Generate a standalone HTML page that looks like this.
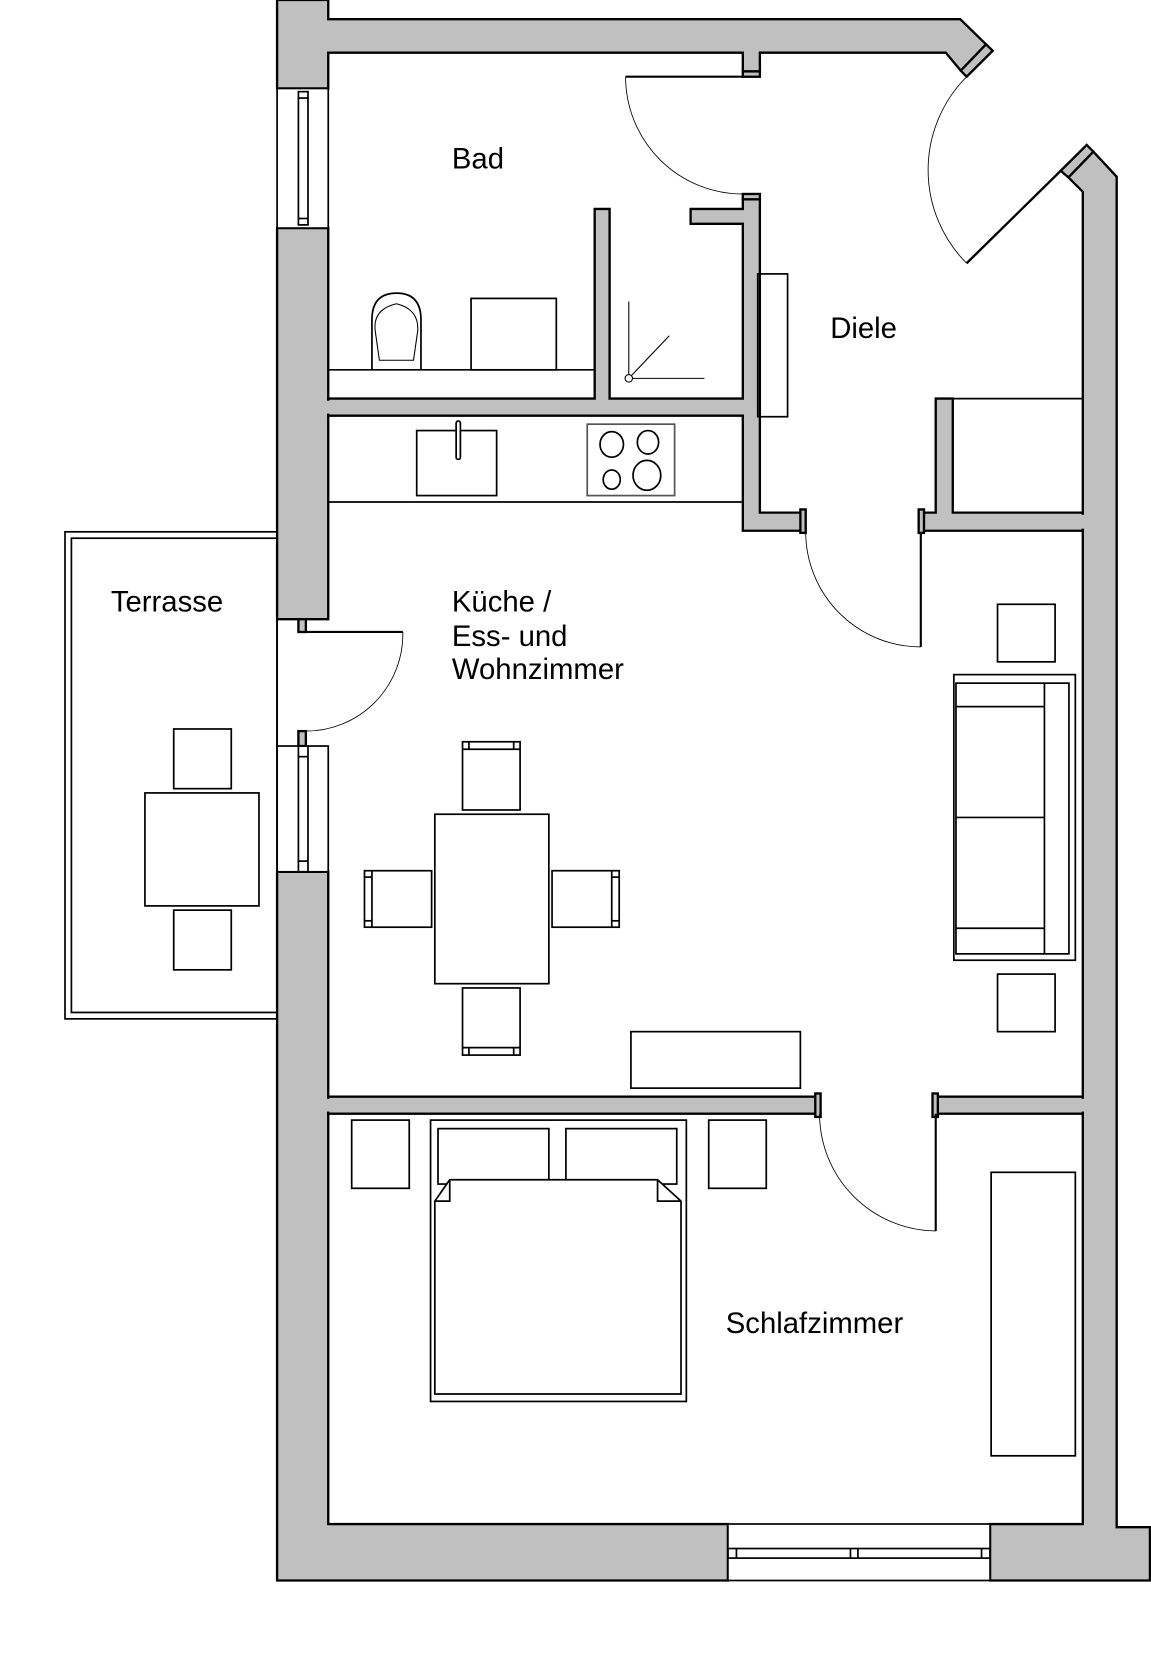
<!DOCTYPE html>
<html><head><meta charset="utf-8"><style>html,body{margin:0;padding:0;background:#fff}svg{display:block}</style></head><body>
<svg width="1151" height="1676" viewBox="0 0 1080 1572.6" xmlns="http://www.w3.org/2000/svg">
<g fill="#c0c0c0" stroke="#000" stroke-width="2.2" stroke-linejoin="miter">
<polygon points="260,0 308,0 308,18 901,18 925.2,41.6 901.5,66.3 887.4,49.4 713,49.4 713,67 697,67 697,49.4 308,49.4 308,83 260,83"/>
<polygon points="925.2,41.6 931.5,47.6 907,72 901.5,66.3"/>
<rect x="697" y="67" width="16" height="5"/>
<polygon points="260,214 308,214 308,581 260,581"/>
<polygon points="260,818 308,818 308,1430 683,1430 683,1483 260,1483"/>
<polygon points="1025.9,142.3 1047.8,165.8 1047.8,1433 1079,1433 1079,1483 929,1483 929,1430 1016,1430 1016,180 1002.5,166.4"/>
<polygon points="1019.7,136 1025.9,142.3 1002.5,166.4 995.3,160.2"/>
<polygon points="308,374 558,374 558,196 572,196 572,374 697,374 697,210 648,210 648,196 697,196 697,187 713,187 713,481 752,481 752,498 697,498 697,390 308,390"/>
<rect x="697" y="182" width="16" height="5"/>
<rect x="751" y="478" width="5" height="22"/>
<polygon points="878,374 894,374 894,481 1016,481 1016,498 866,498 866,481 878,481"/>
<rect x="862" y="478" width="5" height="22"/>
<rect x="308" y="1029" width="458" height="16"/>
<rect x="765" y="1026" width="5" height="22"/>
<rect x="879" y="1029" width="137" height="16"/>
<rect x="875" y="1026" width="5" height="22"/>
<rect x="280" y="581" width="7" height="12"/>
<rect x="280" y="686" width="7" height="14"/>
</g>
<g fill="#c0c0c0">
<rect x="304" y="376" width="10" height="12"/>
<rect x="304" y="1031" width="10" height="12"/>
<rect x="1010" y="1031" width="10" height="12"/>
<rect x="1010" y="483" width="10" height="13"/>
</g>
<g fill="none" stroke="#000" stroke-width="1.6">
<rect x="260" y="83" width="48" height="131" fill="#fff"/>
<rect x="280" y="86" width="9" height="125"/>
<line x1="280" y1="92" x2="289" y2="92"/><line x1="280" y1="205" x2="289" y2="205"/>
<rect x="260" y="700" width="48" height="118" fill="#fff"/>
<rect x="280" y="700" width="9" height="118"/>
<line x1="280" y1="710" x2="289" y2="710"/><line x1="280" y1="808" x2="289" y2="808"/>
<line x1="260" y1="581" x2="260" y2="700"/>
<rect x="683" y="1430" width="246" height="53" fill="#fff"/>
<rect x="683" y="1453" width="246" height="9"/>
<line x1="691" y1="1453" x2="691" y2="1462"/><line x1="798" y1="1453" x2="798" y2="1462"/><line x1="805" y1="1453" x2="805" y2="1462"/><line x1="921" y1="1453" x2="921" y2="1462"/>
<line x1="697" y1="72" x2="587" y2="72" stroke-width="2"/>
<path d="M587,72 A110,110 0 0 0 697,182" stroke-width="0.8"/>
<line x1="995.3" y1="160.2" x2="907" y2="247" stroke-width="2.2"/>
<path d="M907,72 A124,124 0 0 0 907,247" stroke-width="0.8"/>
<line x1="287" y1="593" x2="378" y2="593" stroke-width="2"/>
<path d="M378,593 A91,91 0 0 1 287,686" stroke-width="0.8"/>
<line x1="864" y1="500" x2="864" y2="607" stroke-width="2"/>
<path d="M756,500 A108,108 0 0 0 864,607" stroke-width="0.8"/>
<line x1="878" y1="1045" x2="878" y2="1155" stroke-width="2"/>
<path d="M769,1045 A110,110 0 0 0 878,1155" stroke-width="0.8"/>
<line x1="894" y1="374" x2="1016" y2="374"/>
<line x1="308" y1="347" x2="558" y2="347"/>
<path d="M349,347 L349,300 Q349,275 372,275 Q395,275 395,300 L395,347"/>
<path d="M352,310 Q350,290 372,285 Q393,290 392,310 L388,338 L356,338 Z" stroke-width="1"/>
<rect x="442" y="280" width="80" height="67"/>
<line x1="590" y1="283" x2="590" y2="355" stroke-width="1"/>
<line x1="590" y1="355" x2="661" y2="355" stroke-width="1"/>
<line x1="590" y1="355" x2="628" y2="315" stroke-width="1"/>
<circle cx="590" cy="355" r="3.5" fill="#fff" stroke-width="1"/>
<rect x="711" y="257" width="28" height="134"/>
<line x1="308" y1="471" x2="697" y2="471"/>
<rect x="391" y="404" width="75" height="61"/>
<rect x="428" y="395" width="4" height="36" rx="2" fill="#fff"/>
<rect x="551" y="398" width="82" height="67" stroke="#555"/>
<ellipse cx="574" cy="417" rx="11" ry="12"/><ellipse cx="608" cy="415" rx="10" ry="11"/>
<ellipse cx="574" cy="450" rx="8" ry="9"/><ellipse cx="607" cy="446" rx="13" ry="14"/>
<rect x="61" y="499" width="199" height="457"/>
<rect x="67" y="505" width="193" height="445"/>
<rect x="136" y="744" width="107" height="106"/>
<rect x="163" y="684" width="54" height="56"/>
<rect x="163" y="854" width="54" height="56"/>
<rect x="408" y="764" width="107" height="159"/>
<rect x="434" y="696" width="54" height="64"/><line x1="434" y1="703" x2="488" y2="703"/><line x1="440" y1="696" x2="440" y2="703"/><line x1="482" y1="696" x2="482" y2="703"/>
<rect x="434" y="927" width="54" height="63"/><line x1="434" y1="983" x2="488" y2="983"/><line x1="440" y1="983" x2="440" y2="990"/><line x1="482" y1="983" x2="482" y2="990"/>
<rect x="342" y="817" width="63" height="53"/><line x1="349" y1="817" x2="349" y2="870"/><line x1="342" y1="823" x2="349" y2="823"/><line x1="342" y1="864" x2="349" y2="864"/>
<rect x="518" y="817" width="63" height="53"/><line x1="574" y1="817" x2="574" y2="870"/><line x1="574" y1="823" x2="581" y2="823"/><line x1="574" y1="864" x2="581" y2="864"/>
<rect x="592" y="968" width="159" height="53"/>
<rect x="936" y="567" width="54" height="54"/>
<rect x="936" y="914" width="54" height="54"/>
<rect x="895" y="633" width="114" height="268"/>
<rect x="897" y="641" width="106" height="254"/>
<line x1="980" y1="641" x2="980" y2="895"/>
<line x1="897" y1="663" x2="980" y2="663"/><line x1="897" y1="767" x2="980" y2="767"/><line x1="897" y1="871" x2="980" y2="871"/>
<rect x="330" y="1051" width="54" height="64"/>
<rect x="665" y="1051" width="54" height="64"/>
<rect x="404" y="1051" width="240" height="264"/>
<rect x="411" y="1059" width="104" height="52"/>
<rect x="531" y="1059" width="104" height="52"/>
<path d="M408,1308 L408,1127 L422,1107 L617,1107 L639,1127 L639,1308 Z" fill="#fff"/>
<path d="M408,1127 L422,1127 L422,1107"/>
<path d="M639,1127 L617,1127 L617,1107"/>
<rect x="930" y="1100" width="79" height="266"/>
</g>
<g font-family="Liberation Sans, Arial, sans-serif" font-size="27.5" fill="#000">
<text x="424" y="158">Bad</text>
<text x="779" y="317">Diele</text>
<text x="104" y="574">Terrasse</text>
<text x="424" y="574">Küche /</text>
<text x="424" y="606">Ess- und</text>
<text x="424" y="637">Wohnzimmer</text>
<text x="681" y="1251">Schlafzimmer</text>
</g>
</svg>
</body></html>
